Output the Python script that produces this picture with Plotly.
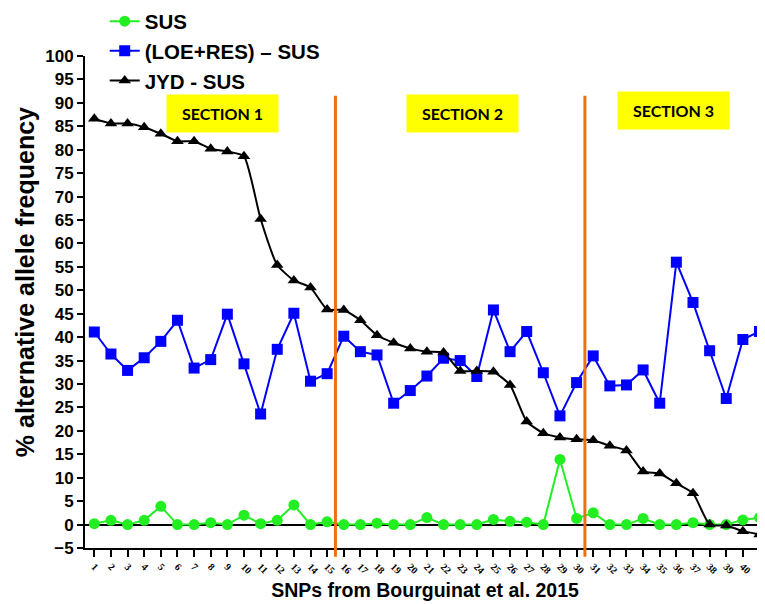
import plotly.graph_objects as go

snp = list(range(1, 42))
tick_labels = [str(i) for i in snp]

sus = [0.2, 0.9, 0.0, 0.9, 3.9, 0.0, 0.0, 0.4, 0.0, 2.0,
       0.2, 0.9, 4.2, 0.0, 0.6, 0.0, 0.0, 0.3, 0.0, 0.0,
       1.5, 0.0, 0.0, 0.0, 1.1, 0.7, 0.5, 0.0, 13.9, 1.3,
       2.5, 0.0, 0.0, 1.3, 0.0, 0.0, 0.4, 0.0, 0.0, 1.0, 1.5]

loe_res = [41.1, 36.4, 32.9, 35.6, 39.1, 43.6, 33.4, 35.2, 44.9, 34.3,
           23.6, 37.4, 45.1, 30.6, 32.2, 40.2, 36.9, 36.2, 25.9, 28.6,
           31.7, 35.5, 35.0, 31.6, 45.8, 36.9, 41.2, 32.4, 23.2, 30.3,
           36.0, 29.6, 29.8, 33.0, 25.9, 56.0, 47.4, 37.1, 26.9, 39.5, 41.2]

jyd = [86.6, 85.6, 85.6, 84.8, 83.4, 81.8, 81.8, 80.2, 79.6, 78.6,
       65.2, 55.4, 52.1, 50.6, 45.9, 45.8, 43.6, 40.4, 38.8, 37.6,
       36.9, 36.7, 32.8, 32.8, 32.6, 29.8, 22.0, 19.5, 18.6, 18.2,
       18.0, 16.8, 15.8, 11.3, 10.9, 8.8, 6.7, 0.0, -0.2, -1.4, -2.1]

section_names = ["SECTION 1", "SECTION 2", "SECTION 3"]
section_x = [8.71, 23.14, 35.83]
section_y = [87.7, 87.7, 88.4]
section_bounds = [15.5, 30.5]

fig = go.Figure()
fig.add_trace(go.Scatter(x=snp, y=sus, name="SUS", mode="lines+markers",
                         line=dict(color="#22ee22", width=2),
                         marker=dict(symbol="circle", size=11, color="#22ee22"),
                         cliponaxis=False))
fig.add_trace(go.Scatter(x=snp, y=loe_res, name="(LOE+RES) \u2013 SUS", mode="lines+markers",
                         line=dict(color="#0000ff", width=2),
                         marker=dict(symbol="square", size=11, color="#0000ff"),
                         cliponaxis=False))
fig.add_trace(go.Scatter(x=snp, y=jyd, name="JYD - SUS", mode="lines+markers",
                         line=dict(color="black", width=2, shape="spline", smoothing=0.5),
                         marker=dict(symbol="triangle-up", size=11, color="black"),
                         cliponaxis=False))

for xb in section_bounds:
    fig.add_shape(type="line", xref="x", yref="paper", x0=xb, x1=xb,
                  y0=-0.018, y1=0.919, line=dict(color="#f07010", width=3))

for name, sx, sy in zip(section_names, section_x, section_y):
    fig.add_annotation(x=sx, y=sy, xref="x", yref="y", text=name, showarrow=False,
                       bgcolor="#ffff00", width=109, height=35,
                       font=dict(family="Lato", size=16, color="black", weight="bold"))

fig.add_annotation(x=-0.088, y=0.5407, xref="paper", yref="paper",
                   text="% alternative allele frequency", textangle=-90, showarrow=False,
                   xanchor="center", yanchor="middle",
                   font=dict(family="Liberation Sans", size=25, color="black", weight="bold"))

fig.update_layout(
    width=757, height=596,
    margin=dict(l=77, r=0, t=48, b=56, autoexpand=False),
    paper_bgcolor="white", plot_bgcolor="white",
    showlegend=True,
    legend=dict(x=0.029, y=1.111, xanchor="left", yanchor="top",
                font=dict(family="Liberation Sans", size=20.5, color="black", weight="bold"),
                bgcolor="rgba(0,0,0,0)", itemwidth=30),
    font=dict(family="Liberation Sans", color="black"),
)
fig.update_xaxes(range=[0.44, 41.33], tickvals=snp, ticktext=tick_labels, automargin=False,
                 tickangle=45, ticks="outside", ticklen=7, tickwidth=2, tickcolor="black",
                 showline=True, linecolor="black", linewidth=2, showgrid=False, zeroline=False,
                 tickfont=dict(family="Liberation Serif", size=10, color="black", weight="bold"),
                 title=dict(text="SNPs from Bourguinat et al. 2015", standoff=8,
                            font=dict(family="Liberation Sans", size=19.5, color="black", weight="bold")))
fig.update_yaxes(range=[-5, 100], dtick=5, tick0=0, ticks="outside", ticklen=6, tickwidth=2,
                 tickcolor="black", showline=True, linecolor="black", linewidth=2, automargin=False,
                 showgrid=False, zeroline=True, zerolinecolor="black", zerolinewidth=2,
                 tickfont=dict(family="Liberation Sans", size=17, color="black", weight="bold"))

fig.write_html("out.html")
